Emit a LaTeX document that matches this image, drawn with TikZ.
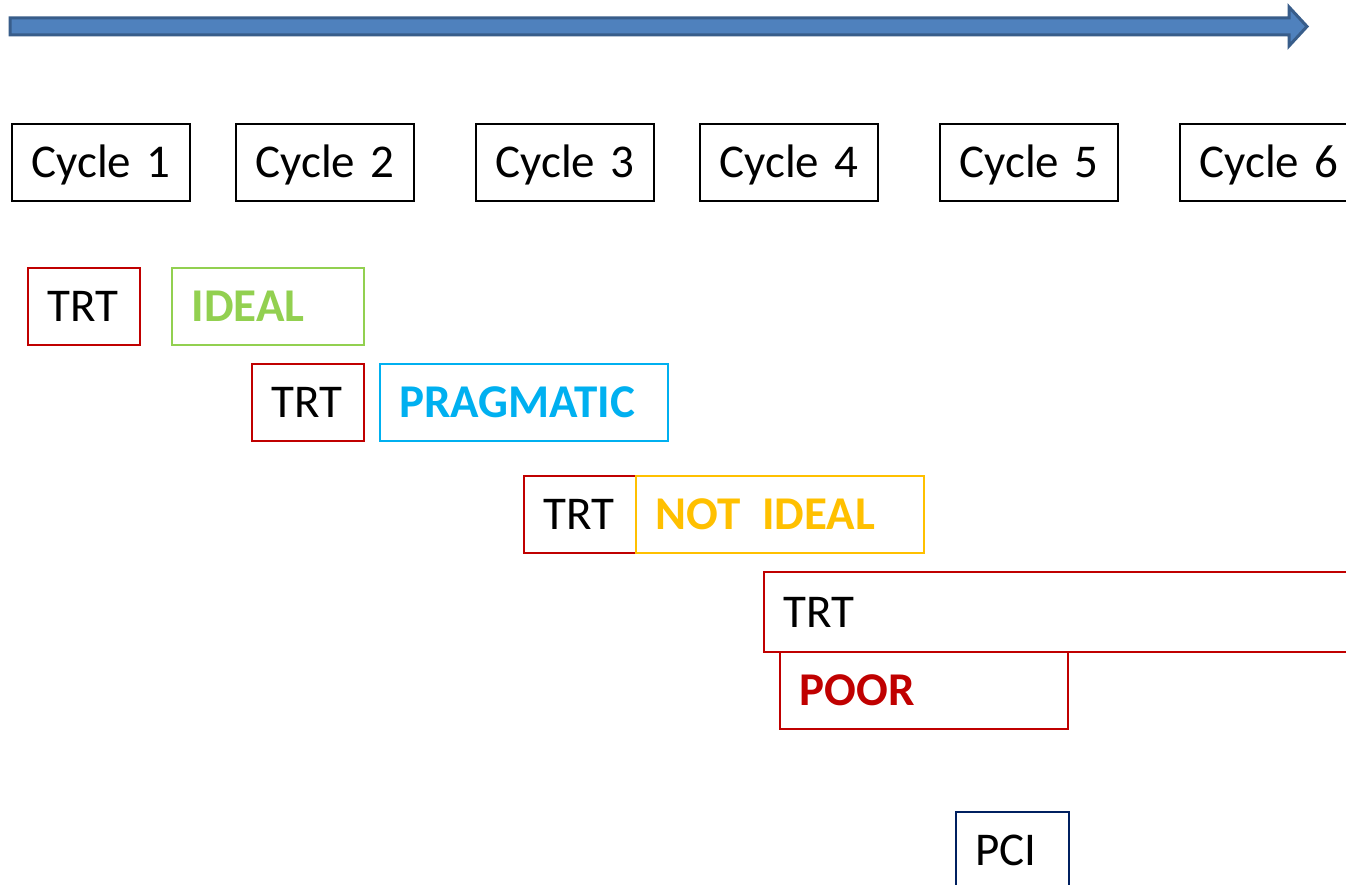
\documentclass[tikz,border=0pt]{standalone}
\usepackage{fontspec}
\setmainfont{Carlito}
\definecolor{arrfill}{HTML}{4F81BD}
\definecolor{arrline}{HTML}{385D8A}
\definecolor{trtred}{HTML}{C00000}
\definecolor{idealgreen}{HTML}{92D050}
\definecolor{pragblue}{HTML}{00B0F0}
\definecolor{notgold}{HTML}{FFC000}
\definecolor{pcinavy}{HTML}{002060}
\tikzset{
  box/.style={draw, line width=2pt, anchor=north west, inner xsep=20pt, inner ysep=0pt,
    align=left, text height=30pt, text depth=0pt, minimum height=77pt,
    font=\fontsize{47}{56}\selectfont},
  cyclebox/.style={box, draw=black, text width=138pt},
  trtbox/.style={box, draw=trtred, text width=72pt},
  labelbox/.style={box, text width=248pt, font=\fontsize{47}{56}\selectfont\bfseries},
}
\begin{document}
\begin{tikzpicture}[x=1pt,y=-1pt]
\clip (0,0) rectangle (1346,885);
\fill[white] (0,0) rectangle (1346,885);
% timeline arrow
\path[fill=arrfill, draw=arrline, line width=3pt, line join=miter]
  (10,18) -- (1289,18) -- (1289,7) -- (1307,26.5) -- (1289,46) -- (1289,35) -- (10,35) -- cycle;
% cycles
\node[cyclebox] (c1) at (10.5,123) {\mbox{Cycle 1}};
\node[cyclebox] (c2) at (234.5,123) {\mbox{Cycle 2}};
\node[cyclebox] (c3) at (474.5,123) {\mbox{Cycle 3}};
\node[cyclebox] (c4) at (698.5,123) {\mbox{Cycle 4}};
\node[cyclebox] (c5) at (938.5,123) {\mbox{Cycle 5}};
\node[cyclebox] (c6) at (1178.5,123) {\mbox{Cycle 6}};
% row 1
\node[trtbox] (t1) at (26.5,267) {\mbox{TRT}};
\node[labelbox, draw=idealgreen, text=idealgreen, text width=152pt] (ideal) at (170.5,267) {IDEAL};
% row 2
\node[trtbox] (t2) at (250.5,363) {\mbox{TRT}};
\node[labelbox, draw=pragblue, text=pragblue] (prag) at (378.5,363) {PRAGMATIC};
% row 3
\node[trtbox] (t3) at (522.5,475) {\mbox{TRT}};
\node[labelbox, draw=notgold, text=notgold] (notideal) at (634.5,475) {\mbox{NOT\hspace{6pt} IDEAL}};
% row 4
\node[box, draw=trtred, text width=560pt, minimum height=80pt] (t4) at (762.5,571) {TRT};
\node[labelbox, draw=trtred, text=trtred] (poor) at (778.5,651) {POOR};
% PCI
\node[box, draw=pcinavy, text width=73pt] (pci) at (954.5,811) {\mbox{PCI}};
\end{tikzpicture}
\end{document}
